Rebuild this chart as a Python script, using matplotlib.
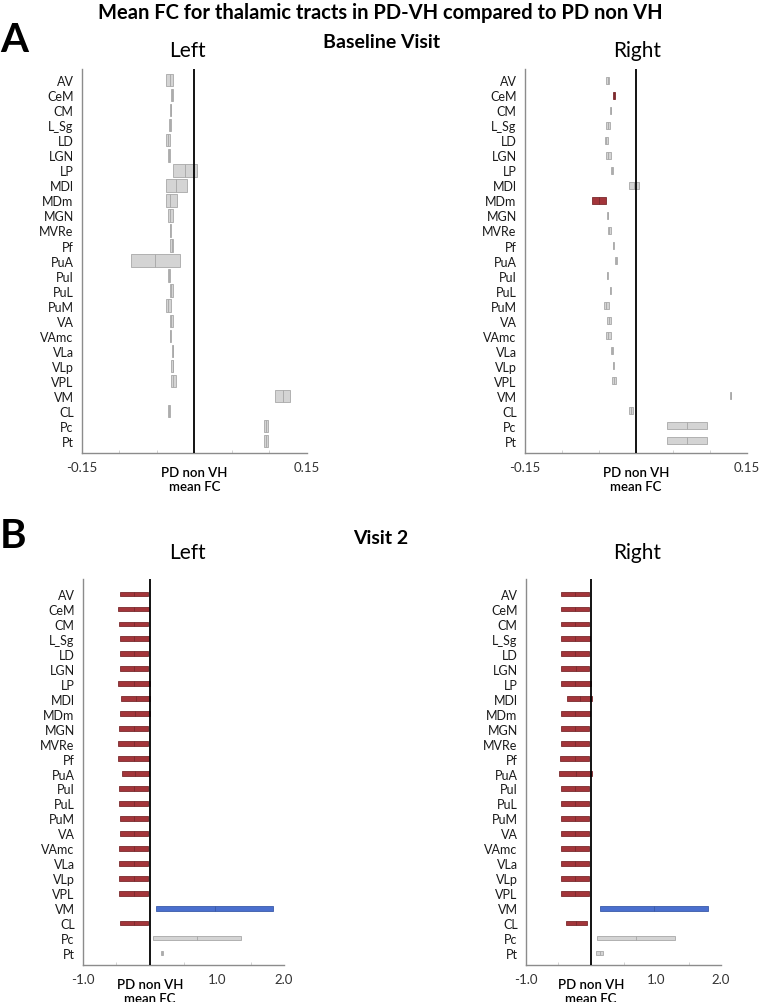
import matplotlib.pyplot as plt
import numpy as np
from matplotlib.ticker import MultipleLocator

plt.rcParams['font.family'] = ['Lato', 'DejaVu Sans']

# thalamic nuclei, top to bottom
nuclei = ["AV", "CeM", "CM", "L_Sg", "LD", "LGN", "LP", "MDl", "MDm", "MGN",
          "MVRe", "Pf", "PuA", "PuI", "PuL", "PuM", "VA", "VAmc", "VLa", "VLp",
          "VPL", "VM", "CL", "Pc", "Pt"]

# Baseline visit, left hemisphere (lower, median, upper)
base_left_lo = [-0.038, -0.0316, -0.032, -0.0342, -0.038, -0.0347, -0.028, -0.038, -0.0378, -0.0356,
                -0.0329, -0.032, -0.084, -0.035, -0.0324, -0.038, -0.0333, -0.0329, -0.0298, -0.0307,
                -0.0316, 0.1076, -0.0356, 0.0924, 0.0924]
base_left_med = [-0.033, -0.030, -0.031, -0.0324, -0.0347, -0.0338, -0.012, -0.024, -0.032, -0.0329,
                 -0.0324, -0.030, -0.052, -0.034, -0.0307, -0.035, -0.0307, -0.032, -0.0293, -0.0293,
                 -0.0289, 0.1178, -0.0342, 0.0956, 0.0956]
base_left_hi = [-0.029, -0.0289, -0.0307, -0.0307, -0.032, -0.0329, 0.0027, -0.0098, -0.0231, -0.0293,
                -0.0316, -0.028, -0.019, -0.033, -0.0289, -0.0316, -0.028, -0.0307, -0.0284, -0.028,
                -0.0253, 0.128, -0.0324, 0.0982, 0.0982]
base_left_col = ["g"] * 25

# Baseline visit, right hemisphere
base_right_lo = [-0.040, -0.0315, -0.0347, -0.0405, -0.0419, -0.0405, -0.0342, -0.0099, -0.0599, -0.0396,
                 -0.0378, -0.0315, -0.0284, -0.0392, -0.0356, -0.0437, -0.0396, -0.041, -0.0333, -0.0315,
                 -0.0329, 0.127, -0.0099, 0.0419, 0.0419]
base_right_med = [-0.038, -0.030, -0.0342, -0.038, -0.040, -0.0374, -0.0324, -0.0032, -0.050, -0.038,
                  -0.036, -0.0306, -0.027, -0.0387, -0.0351, -0.040, -0.0369, -0.0378, -0.032, -0.0306,
                  -0.030, 0.128, -0.0072, 0.0689, 0.0689]
base_right_hi = [-0.036, -0.0288, -0.0338, -0.0356, -0.0374, -0.0338, -0.0306, 0.004, -0.040, -0.0374,
                 -0.0342, -0.0297, -0.0252, -0.0378, -0.0342, -0.0365, -0.0333, -0.0338, -0.0306, -0.0293,
                 -0.0266, 0.129, -0.0041, 0.0964, 0.0964]
base_right_col = ["g", "r", "g", "g", "g", "g", "g", "g", "r", "g", "g", "g", "g", "g", "g", "g",
                  "g", "g", "g", "g", "g", "g", "g", "g", "g"]

# Visit 2, left hemisphere
v2_left_lo = [-0.45, -0.475, -0.47, -0.455, -0.455, -0.445, -0.475, -0.43, -0.445, -0.46,
              -0.475, -0.475, -0.42, -0.46, -0.46, -0.45, -0.455, -0.47, -0.465, -0.46,
              -0.47, 0.095, -0.455, 0.045, 0.17]
v2_left_med = [-0.24, -0.235, -0.24, -0.235, -0.24, -0.235, -0.235, -0.21, -0.225, -0.235,
               -0.24, -0.24, -0.23, -0.245, -0.24, -0.24, -0.24, -0.24, -0.24, -0.24,
               -0.24, 0.975, -0.24, 0.705, 0.18]
v2_left_hi = [-0.025, -0.015, -0.025, -0.01, -0.035, -0.03, -0.005, 0.0, -0.005, -0.025,
              -0.025, -0.015, -0.02, -0.035, -0.025, -0.035, -0.025, -0.025, -0.025, -0.025,
              -0.025, 1.835, -0.025, 1.365, 0.195]
v2_left_col = ["r"] * 21 + ["b", "r", "g", "g"]

# Visit 2, right hemisphere
v2_right_lo = [-0.459, -0.469, -0.469, -0.469, -0.469, -0.454, -0.469, -0.366, -0.469, -0.464,
               -0.464, -0.474, -0.485, -0.464, -0.459, -0.464, -0.454, -0.464, -0.459, -0.464,
               -0.469, 0.134, -0.381, 0.093, 0.077]
v2_right_med = [-0.242, -0.247, -0.247, -0.242, -0.242, -0.237, -0.242, -0.170, -0.242, -0.242,
                -0.242, -0.247, -0.237, -0.242, -0.242, -0.242, -0.242, -0.242, -0.242, -0.242,
                -0.242, 0.964, -0.227, 0.696, 0.134]
v2_right_hi = [-0.031, -0.026, -0.036, -0.021, -0.036, -0.026, -0.005, 0.021, -0.021, -0.036,
               -0.036, -0.026, 0.021, -0.036, -0.036, -0.031, -0.036, -0.036, -0.036, -0.036,
               -0.036, 1.804, -0.067, 1.294, 0.191]
v2_right_col = ["r"] * 21 + ["b", "r", "g", "g"]

fill = {"g": "#d4d4d4", "r": "#a3353a", "b": "#4a6fce"}
edge = {"g": "#a8a8a8", "r": "#7a2a2e", "b": "#3a5aa8"}

fig = plt.figure(figsize=(7.6, 10.03), dpi=100)


def panel(rect, lo, med, hi, cols, xlim, minor, ticklabels, bar_h, ytop):
    ax = fig.add_axes(rect)
    y = np.arange(len(nuclei))
    fc = [fill[c] for c in cols]
    ec = [edge[c] for c in cols]
    lo, med, hi = np.array(lo), np.array(med), np.array(hi)
    ax.barh(y, med - lo, left=lo, height=bar_h, color=fc, edgecolor=ec, linewidth=0.6, zorder=3)
    ax.barh(y, hi - med, left=med, height=bar_h, color=fc, edgecolor=ec, linewidth=0.6, zorder=3)
    ax.axvline(0, color='black', lw=1.3, zorder=4)

    ax.set_xlim(*xlim)
    ax.set_ylim(len(nuclei) - 0.2, ytop)
    ax.set_yticks(y)
    ax.set_yticklabels(nuclei, fontsize=9, color='#1a1a1a')
    ax.tick_params(axis='y', length=0, pad=6)

    ax.set_xticks([xlim[0], xlim[1]] + ticklabels[1])
    ax.set_xticklabels([ticklabels[0][0], ticklabels[0][1]] + [t for t in ticklabels[2]], fontsize=9.5,
                       color='#333333')
    ax.xaxis.set_minor_locator(MultipleLocator(minor))
    ax.tick_params(axis='x', which='major', length=0, pad=6)
    ax.tick_params(axis='x', which='minor', length=2.5, direction='in', color='#cccccc')

    ax.text(0, -0.035, "PD non VH\nmean FC", transform=ax.get_xaxis_transform(),
            ha='center', va='top', fontsize=9.5, fontweight='semibold', linespacing=1.15)

    for s in ['top', 'right']:
        ax.spines[s].set_visible(False)
    for s in ['left', 'bottom']:
        ax.spines[s].set_color('#8c8c8c')
        ax.spines[s].set_linewidth(1.0)
    return ax


panel([0.1079, 0.5474, 0.296, 0.3829], base_left_lo, base_left_med, base_left_hi, base_left_col,
      (-0.15, 0.15), 0.05, (["-0.15", "0.15"], [], []), 0.82, -0.75)
panel([0.6908, 0.5474, 0.292, 0.3829], base_right_lo, base_right_med, base_right_hi, base_right_col,
      (-0.15, 0.15), 0.05, (["-0.15", "0.15"], [], []), 0.47, -0.75)
panel([0.1092, 0.0369, 0.2645, 0.3848], v2_left_lo, v2_left_med, v2_left_hi, v2_left_col,
      (-1.0, 2.0), 0.5, (["-1.0", "2.0"], [1.0], ["1.0"]), 0.32, -1.0)
panel([0.6921, 0.0369, 0.2566, 0.3848], v2_right_lo, v2_right_med, v2_right_hi, v2_right_col,
      (-1.0, 2.0), 0.5, (["-1.0", "2.0"], [1.0], ["1.0"]), 0.32, -1.0)

# titles and panel letters
fig.text(0.5, 1 - 13 / 1003, "Mean FC for thalamic tracts in PD-VH compared to PD non VH",
         ha='center', va='center', fontsize=14.5, fontweight='bold')
fig.text(0.0, 1 - 40 / 1003, "A", ha='left', va='center', fontsize=29, fontweight='bold')
fig.text(0.0, 1 - 537 / 1003, "B", ha='left', va='center', fontsize=29, fontweight='bold')
fig.text(382 / 760, 1 - 43 / 1003, "Baseline Visit", ha='center', va='center', fontsize=14, fontweight='bold')
fig.text(381 / 760, 1 - 539 / 1003, "Visit 2", ha='center', va='center', fontsize=14, fontweight='bold')
for yy in [51, 553]:
    fig.text(187 / 760, 1 - yy / 1003, "Left", ha='center', va='center', fontsize=15)
    fig.text(637 / 760, 1 - yy / 1003, "Right", ha='center', va='center', fontsize=15)

plt.savefig("out.png", dpi=100, facecolor='white')
